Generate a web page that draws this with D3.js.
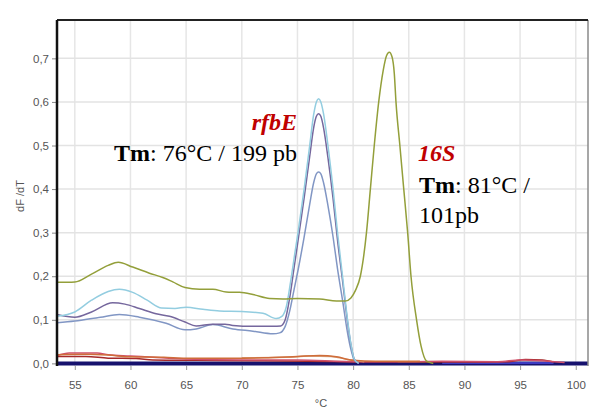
<!DOCTYPE html>
<html><head><meta charset="utf-8">
<script src="https://cdn.jsdelivr.net/npm/d3@7/dist/d3.min.js"></script>
<style>body{margin:0;background:#fff}svg{display:block}</style>
</head><body><svg id="c" width="590" height="412"></svg>
<script>
// ---- data (temperature °C, dF/dT) ----
const xTicks = [55,60,65,70,75,80,85,90,95,100];
const yTicks = [0.0,0.1,0.2,0.3,0.4,0.5,0.6,0.7];

const s16S_T = [53.4,55,56.5,58,58.9,60.2,61.7,62.9,63.8,64.9,66.2,67.4,68.6,69.8,71.0,72.5,73.7,75,77,78.5,79.3,79.8,80.2,80.65,81.2,81.55,81.9,82.3,82.7,83.0,83.25,83.5,83.7,83.85,84.2,84.55,84.9,85.2,85.7,86.1,86.6,87.2];
const s16S_V = [0.186,0.187,0.205,0.225,0.232,0.221,0.207,0.197,0.187,0.174,0.170,0.170,0.164,0.163,0.158,0.149,0.148,0.149,0.148,0.143,0.143,0.150,0.167,0.200,0.300,0.400,0.500,0.600,0.672,0.706,0.714,0.703,0.665,0.600,0.500,0.400,0.300,0.200,0.100,0.040,0.005,0.0];

const cyan_T = [53.4,55,56.5,58,59,60.2,61.5,62.8,64,65,66.5,68,70,71.9,73.1,73.6,74.0,74.4,74.75,75.05,75.6,76.1,76.45,76.7,76.9,77.1,77.35,77.74,78.2,78.6,79.05,79.5,79.8,80.1,80.5];
const cyan_V = [0.108,0.118,0.145,0.165,0.170,0.163,0.145,0.127,0.126,0.129,0.124,0.120,0.119,0.115,0.103,0.108,0.130,0.190,0.250,0.300,0.400,0.500,0.570,0.600,0.607,0.600,0.572,0.500,0.400,0.300,0.200,0.100,0.045,0.010,0.0];

const purple_T = [53.4,55,56.5,58.4,59.5,60.8,62.3,63.5,64.9,65.9,67.4,68.5,69.2,71,72.8,73.5,73.9,74.3,74.7,75.1,75.6,76.1,76.45,76.7,76.9,77.1,77.35,77.74,78.2,78.6,79.05,79.5,79.8,80.1,80.5];
const purple_V = [0.112,0.106,0.118,0.139,0.136,0.126,0.114,0.108,0.095,0.086,0.090,0.090,0.087,0.085,0.085,0.086,0.100,0.150,0.220,0.290,0.380,0.475,0.540,0.567,0.573,0.567,0.540,0.472,0.378,0.283,0.190,0.095,0.043,0.010,0.0];

const slate_T = [53.4,55,57.3,59,60.8,63.2,64.9,65.9,67.4,69.2,71,72.8,73.4,73.9,74.3,74.7,75.1,75.6,76.1,76.45,76.7,76.9,77.1,77.35,77.74,78.2,78.6,79.05,79.5,79.8,80.1,80.5];
const slate_V = [0.093,0.097,0.106,0.112,0.106,0.092,0.077,0.079,0.089,0.079,0.074,0.068,0.070,0.085,0.120,0.170,0.220,0.290,0.365,0.414,0.435,0.439,0.435,0.414,0.362,0.290,0.217,0.145,0.070,0.032,0.008,0.0];

const orange_T = [53.4,56,58,60,63,65,69,72,75,77,78.5,80,82,86];
const orange_V = [0.020,0.021,0.019,0.015,0.014,0.012,0.012,0.013,0.016,0.018,0.015,0.007,0.005,0.005];

const pink_T = [53.4,54.5,57,58,60,62,65,70,75,80,85,88,93,95,97,99];
const pink_V = [0.018,0.024,0.024,0.020,0.017,0.014,0.010,0.008,0.008,0.004,0.004,0.005,0.004,0.008,0.006,0.002];

const darkred_T = [53.4,56,58,60.5,62,66,72,80,90,94,95.5,97,98];
const darkred_V = [0.016,0.016,0.012,0.011,0.008,0.007,0.006,0.004,0.003,0.004,0.009,0.008,0.003];

const tan_T = [70,74,76,78,79.5,81];
const tan_V = [0.013,0.014,0.017,0.016,0.009,0.004];

const green_T = [84,85.5,87];
const green_V = [0.003,0.003,0.003];

const blue_T = [88,93,98];
const blue_V = [0.001,0.001,0.001];

const navy_T = [53.4,101.1];
const navy_V = [0.0,0.0];

// ---- layout ----
const svg = d3.select("#c");
const L = 57, R = 588, T = 20, B = 366;
const x = d3.scaleLinear().domain([53.4,101.1]).range([L,R]);
const y = d3.scaleLinear().domain([-0.006,0.788]).range([B,T]);

// grid
svg.append("g").selectAll("line").data(xTicks).join("line")
  .attr("x1",d=>x(d)).attr("x2",d=>x(d)).attr("y1",T).attr("y2",B)
  .attr("stroke","#e6e6e6").attr("stroke-width",1.5);
svg.append("g").selectAll("line").data(yTicks.filter(d=>d>0)).join("line")
  .attr("x1",L).attr("x2",R).attr("y1",d=>y(d)).attr("y2",d=>y(d))
  .attr("stroke","#e3e3e3").attr("stroke-width",1.5);

// axes
const yAxis = d3.axisLeft(y).tickValues(yTicks).tickSize(5).tickPadding(3)
  .tickFormat(d=>d3.format(".1f")(d).replace(".",","));
const gy = svg.append("g").attr("transform",`translate(${L},0)`).call(yAxis);
gy.select(".domain").remove();
gy.selectAll("line").attr("stroke","#888");
gy.selectAll("text").attr("fill","#555").style("font-family","Liberation Sans, Arial, sans-serif").style("font-size","11.5px");

const xAxis = d3.axisBottom(x).tickValues(xTicks).tickSize(4).tickPadding(11);
const gx = svg.append("g").attr("transform",`translate(0,${B})`).call(xAxis);
gx.select(".domain").remove();
gx.selectAll("line").attr("stroke","#999");
gx.selectAll("text").attr("fill","#555").style("font-family","Liberation Sans, Arial, sans-serif").style("font-size","11.5px");

// lines
const line = d3.line().x(d=>x(d[0])).y(d=>y(d[1])).curve(d3.curveMonotoneX);
const zip = (a,b)=>a.map((t,i)=>[t,b[i]]);
const series = [
  {T:navy_T, V:navy_V, c:"#17126e", w:4},
  {T:blue_T, V:blue_V, c:"#4a4ae0", w:1.5},
  {T:green_T, V:green_V, c:"#3f9f55", w:1.5},
  {T:darkred_T, V:darkred_V, c:"#a62a2a", w:1.5},
  {T:pink_T, V:pink_V, c:"#d0506a", w:1.5},
  {T:tan_T, V:tan_V, c:"#d9a27c", w:1.5},
  {T:orange_T, V:orange_V, c:"#cf6d3a", w:1.5},
  {T:slate_T, V:slate_V, c:"#8196c4", w:1.5},
  {T:purple_T, V:purple_V, c:"#75679d", w:1.5},
  {T:cyan_T, V:cyan_V, c:"#93cde0", w:1.5},
  {T:s16S_T, V:s16S_V, c:"#939f3a", w:1.5}
];
svg.append("g").selectAll("path").data(series).join("path")
  .attr("d",d=>line(zip(d.T,d.V))).attr("fill","none")
  .attr("stroke",d=>d.c).attr("stroke-width",d=>d.w).attr("stroke-linejoin","round");

// frame
svg.append("line").attr("x1",R).attr("x2",R).attr("y1",T).attr("y2",B).attr("stroke","#8a8a8a").attr("stroke-width",1.5);
svg.append("line").attr("x1",L).attr("x2",R).attr("y1",T).attr("y2",T).attr("stroke","#222").attr("stroke-width",2);
svg.append("line").attr("x1",L).attr("x2",L).attr("y1",T).attr("y2",B).attr("stroke","#111").attr("stroke-width",2.5);

// axis titles
svg.append("text").attr("transform","translate(24,196) rotate(-90)").attr("text-anchor","middle")
  .attr("fill","#555").style("font-family","Liberation Sans, Arial, sans-serif").style("font-size","11px").text("dF /dT");
svg.append("text").attr("x",321).attr("y",407).attr("text-anchor","middle")
  .attr("fill","#555").style("font-family","Liberation Sans, Arial, sans-serif").style("font-size","11px").text("°C");

// annotations
const serif = "Liberation Serif, 'Times New Roman', serif";
svg.append("text").attr("x",297).attr("y",130).attr("text-anchor","end")
  .attr("fill","#c00000").style("font-family",serif).style("font-size","24px")
  .style("font-weight","bold").style("font-style","italic").text("rfbE");
const t1 = svg.append("text").attr("x",297).attr("y",160.5).attr("text-anchor","end")
  .attr("fill","#000").style("font-family",serif).style("font-size","24px");
t1.append("tspan").style("font-weight","bold").text("Tm");
t1.append("tspan").text(": 76°C / 199 pb");

svg.append("text").attr("x",418).attr("y",161).attr("fill","#c00000").style("font-family",serif).style("font-size","24px")
  .style("font-weight","bold").style("font-style","italic").text("16S");
const t2 = svg.append("text").attr("x",419).attr("y",192.5).attr("fill","#000").style("font-family",serif).style("font-size","24px");
t2.append("tspan").style("font-weight","bold").text("Tm");
t2.append("tspan").text(": 81°C /");
svg.append("text").attr("x",419).attr("y",222.5).attr("fill","#000").style("font-family",serif).style("font-size","24px").text("101pb");
</script></body></html>
